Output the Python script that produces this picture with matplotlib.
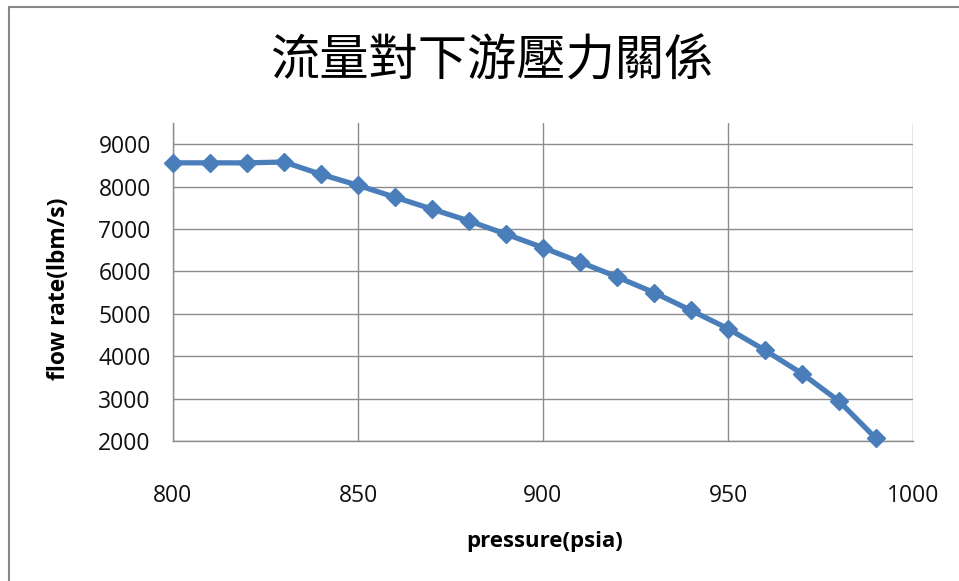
import matplotlib
matplotlib.use("Agg")
import matplotlib.pyplot as plt
from matplotlib.patches import Rectangle

# Downstream pressure (psia) vs. flow rate (lbm/s)
pressure = [800, 810, 820, 830, 840, 850, 860, 870, 880, 890,
            900, 910, 920, 930, 940, 950, 960, 970, 980, 990]
flow_rate = [8560, 8560, 8560, 8580, 8290, 8030, 7750, 7470, 7190, 6880,
             6560, 6220, 5870, 5500, 5080, 4650, 4140, 3590, 2940, 2060]

x_ticks = [800, 850, 900, 950, 1000]
y_ticks = [2000, 3000, 4000, 5000, 6000, 7000, 8000, 9000]

title = "流量對下游壓力關係"
x_label = "pressure(psia)"
y_label = "flow rate(lbm/s)"

W, H = 959, 581
fig = plt.figure(figsize=(W / 100, H / 100), dpi=100)
fig.patch.set_facecolor("white")

# chart frame (runs off the right and bottom edges)
fig.patches.append(Rectangle((9 / W, -0.05), 1.1, 1 - 7 / H + 0.05,
                             transform=fig.transFigure, fill=False,
                             edgecolor="#888888", linewidth=1.5))

ax = fig.add_axes([173 / W, 1 - 441 / H, (913 - 173) / W, (441 - 123) / H])

ax.plot(pressure, flow_rate, color="#4A7EBB", linewidth=3.8,
        marker="D", markersize=9, markerfacecolor="#4A7EBB",
        markeredgecolor="#4A7EBB", markeredgewidth=1, zorder=3,
        clip_on=False)

ax.set_xlim(800, 1000)
ax.set_ylim(2000, 9500)
ax.set_xticks(x_ticks)
ax.set_yticks(y_ticks)
ax.grid(True, color="#8C8C8C", linewidth=1.0)
ax.set_axisbelow(True)
for side in ["top", "right"]:
    ax.spines[side].set_visible(False)
for side in ["left", "bottom"]:
    ax.spines[side].set_color("#8C8C8C")
    ax.spines[side].set_linewidth(1.0)

ax.tick_params(length=0)
ax.tick_params(axis="x", pad=31)
ax.tick_params(axis="y", pad=16)
for lab in ax.get_xticklabels() + ax.get_yticklabels():
    lab.set_fontfamily("Open Sans")
    lab.set_fontsize(16.5)
    lab.set_color("#111111")

fig.text(545 / W, 1 - 541 / H, x_label, ha="center", va="center",
         fontfamily="Open Sans", fontweight="bold", fontsize=16)
fig.text(59 / W, 1 - 289 / H, y_label, ha="center", va="center",
         rotation=90, fontfamily="Open Sans", fontweight="bold", fontsize=16.5)
fig.text(492 / W, 1 - 61 / H, title, ha="center", va="center",
         fontfamily=["Noto Sans CJK TC", "DejaVu Sans"], fontsize=35.5)

fig.savefig("out.png", dpi=100, facecolor="white")
